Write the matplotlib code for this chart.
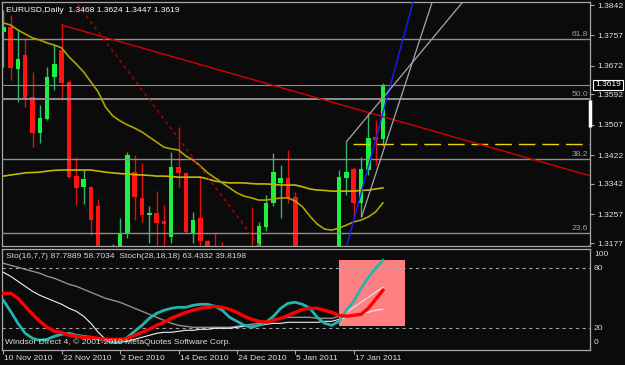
import matplotlib
matplotlib.use("Agg")
import matplotlib.pyplot as plt
import matplotlib.transforms as mtransforms
from matplotlib.patches import Rectangle
import numpy as np

plt.rcParams['font.family'] = ['Liberation Sans', 'DejaVu Sans']

# EURUSD daily bars, 10 Nov 2010 .. 21 Jan 2011 (bar index 0..52)
opens = [1.3767, 1.3781, 1.3663, 1.3702, 1.3585, 1.3484, 1.3524, 1.3641, 1.3716, 1.3627,
         1.3364, 1.3334, 1.3334, 1.3280, 1.3080, 1.2990, 1.3120, 1.3205, 1.3375, 1.3303,
         1.3255, 1.3261, 1.3239, 1.3194, 1.3389, 1.3373, 1.3205, 1.3247, 1.3183, 1.3160,
         1.3140, 1.3120, 1.3130, 1.3140, 1.3160, 1.3090, 1.3222, 1.3289, 1.3345, 1.3359,
         1.3306, 1.3140, 1.3000, 1.2900, 1.2950, 1.2990, 1.3110, 1.3359, 1.3384, 1.3289,
         1.3381, 1.3473, 1.3468]
highs = [1.3828, 1.3814, 1.3775, 1.3750, 1.3655, 1.3563, 1.3669, 1.3730, 1.3789, 1.3632,
         1.3417, 1.3381, 1.3336, 1.3300, 1.3140, 1.3174, 1.3247, 1.3431, 1.3423, 1.3401,
         1.3280, 1.3322, 1.3283, 1.3431, 1.3501, 1.3375, 1.3264, 1.3361, 1.3185, 1.3205,
         1.3180, 1.3150, 1.3160, 1.3165, 1.3278, 1.3236, 1.3311, 1.3429, 1.3395, 1.3437,
         1.3320, 1.3160, 1.3020, 1.2970, 1.3020, 1.3130, 1.3381, 1.3459, 1.3390, 1.3417,
         1.3540, 1.3521, 1.3624]
lows = [1.3669, 1.3632, 1.3571, 1.3557, 1.3445, 1.3456, 1.3521, 1.3605, 1.3577, 1.3359,
        1.3283, 1.3286, 1.3199, 1.3060, 1.2970, 1.2980, 1.3100, 1.3191, 1.3241, 1.3236,
        1.3177, 1.3165, 1.3160, 1.3177, 1.3334, 1.3205, 1.3177, 1.3160, 1.3130, 1.3110,
        1.3100, 1.3080, 1.3100, 1.3090, 1.3060, 1.3070, 1.3211, 1.3280, 1.3247, 1.3289,
        1.3120, 1.2990, 1.2870, 1.2860, 1.2910, 1.2970, 1.3100, 1.3311, 1.3250, 1.3250,
        1.3367, 1.3395, 1.3447]
closes = [1.3781, 1.3666, 1.3691, 1.3582, 1.3484, 1.3526, 1.3641, 1.3677, 1.3624, 1.3361,
          1.3331, 1.3356, 1.3241, 1.3080, 1.2990, 1.3120, 1.3205, 1.3423, 1.3306, 1.3255,
          1.3261, 1.3233, 1.3230, 1.3389, 1.3373, 1.3208, 1.3241, 1.3183, 1.3170, 1.3140,
          1.3120, 1.3130, 1.3140, 1.3110, 1.3090, 1.3225, 1.3289, 1.3375, 1.3359, 1.3303,
          1.3140, 1.3000, 1.2900, 1.2950, 1.2990, 1.3110, 1.3361, 1.3375, 1.3289, 1.3384,
          1.3470, 1.3465, 1.3619]

ma_fast = [1.3792, 1.3786, 1.3772, 1.3761, 1.3750, 1.3744, 1.3736, 1.3730, 1.3722, 1.3697,
           1.3677, 1.3655, 1.3627, 1.3599, 1.3557, 1.3532, 1.3518, 1.3507, 1.3498, 1.3487,
           1.3473, 1.3459, 1.3445, 1.3440, 1.3437, 1.3420, 1.3409, 1.3392, 1.3373, 1.3359,
           1.3345, 1.3331, 1.3317, 1.3308, 1.3303, 1.3297, 1.3297, 1.3300, 1.3303, 1.3303,
           1.3294, 1.3278, 1.3252, 1.3230, 1.3216, 1.3213, 1.3219, 1.3227, 1.3236, 1.3241,
           1.3250, 1.3264, 1.3289]
ma_slow = [1.3364, 1.3367, 1.3370, 1.3373, 1.3374, 1.3375, 1.3378, 1.3380, 1.3381, 1.3381,
           1.3381, 1.3381, 1.3381, 1.3378, 1.3375, 1.3373, 1.3371, 1.3370, 1.3368, 1.3367,
           1.3366, 1.3364, 1.3364, 1.3363, 1.3361, 1.3361, 1.3361, 1.3361, 1.3356, 1.3350,
           1.3347, 1.3345, 1.3345, 1.3345, 1.3343, 1.3342, 1.3342, 1.3341, 1.3339, 1.3339,
           1.3339, 1.3334, 1.3328, 1.3325, 1.3324, 1.3322, 1.3322, 1.3322, 1.3322, 1.3324,
           1.3325, 1.3328, 1.3331]

sto_main = [48, 37, 25, 15, 10, 8, 9, 12, 14, 15, 13, 12, 11, 9, 8, 6, 6, 11, 17, 23,
            30, 35, 38, 40, 41, 41, 43, 44, 44, 42, 38, 31, 27, 23, 21, 23, 26, 32, 40, 45,
            46, 44, 40, 31, 25, 23, 27, 38, 47, 60, 71, 80, 88]
sto_signal = [55, 55, 50, 42, 34, 27, 21, 17, 16, 13, 12, 11, 11, 10, 9, 9, 9, 10, 13, 16,
              19, 23, 26, 30, 33, 36, 38, 40, 41, 42, 41, 39, 36, 32, 29, 27, 26, 28, 30, 33,
              36, 39, 40, 40, 38, 36, 33, 32, 33, 34, 40, 49, 58]
stoch_main = [85, 83, 81, 79, 77, 75, 72, 70, 67, 64, 62, 59, 56, 53, 50, 48, 46, 43, 40, 37,
              34, 31, 28, 25, 23, 22, 21, 21, 21, 21, 21, 21, 22, 23, 24, 25, 27, 29, 30, 31,
              31, 31, 31, 30, 30, 30, 32, 36, 41, 46, 51, 56, 61]
stoch_signal = [76, 72, 67, 62, 57, 53, 50, 47, 44, 40, 37, 32, 25, 16, 9, 6, 6, 7, 9, 11,
                13, 15, 16, 16, 17, 18, 18, 19, 19, 20, 20, 20, 21, 22, 22, 23, 24, 25, 25, 26,
                26, 26, 26, 26, 27, 27, 29, 31, 33, 35, 36, 38, 39]

date_bars = [0, 8, 16, 24, 32, 40, 48]
date_labels = ['10 Nov 2010', '22 Nov 2010', '2 Dec 2010', '14 Dec 2010',
               '24 Dec 2010', '5 Jan 2011', '17 Jan 2011']
price_ticks = [1.3842, 1.3757, 1.3672, 1.3592, 1.3507, 1.3422, 1.3342, 1.3257, 1.3177]
fib_levels = [1.3747, 1.3579, 1.3412, 1.3205]
fib_names = ['61.8', '50.0', '38.2', '23.6']
hline_price = 1.3454
hline_start = 47.9

# trendlines as (bar, price) anchor pairs
red_trend = [(8, 1.3786), (52, 1.3530)]
red_dotted = [(12.5, 1.3781), (34.5, 1.3185)]
blue_trend = [(47.0, 1.3166), (56.1, 1.3848)]
gray_upper = [(47.0, 1.3460), (62.8, 1.3847)]
gray_lower = [(49.1, 1.3251), (58.7, 1.3847)]
stoch_box = (46, 55, 22, 88)

BG = '#0b0b0b'
W, H = 625.0, 365.0
XMIN, XMAX = -0.18, 80.37


def px_box(x0, y0, x1, y1):
    return [x0 / W, 1 - y1 / H, (x1 - x0) / W, (y1 - y0) / H]


def through(p0, p1, x_from, x_to):
    (xa, ya), (xb, yb) = p0, p1
    k = (yb - ya) / (xb - xa)
    return [x_from, x_to], [ya + k * (x_from - xa), ya + k * (x_to - xa)]


fig = plt.figure(figsize=(6.25, 3.65), dpi=100, facecolor=BG)
ax = fig.add_axes(px_box(2, 2, 590, 246), facecolor=BG)
ax2 = fig.add_axes(px_box(2, 248.5, 590, 349.5), facecolor=BG)

for a in (ax, ax2):
    a.set_xlim(XMIN, XMAX)
    for s in a.spines.values():
        s.set_color('#a8a8a8')
        s.set_linewidth(0.9)

ax.set_ylim(1.31687, 1.38504)
ax2.set_ylim(-1.2, 99.8)

# candles
idx = np.arange(len(opens))
o, h, l, c = map(np.array, (opens, highs, lows, closes))
up = c >= o
ax.vlines(idx[up], l[up], h[up], color='#2fb56c', lw=1, zorder=2)
ax.vlines(idx[~up], l[~up], h[~up], color='#e01010', lw=1, zorder=2)
ax.bar(idx[up], (c - o)[up], bottom=o[up], width=0.62, color='#1cf040', lw=0, zorder=3)
ax.bar(idx[~up], (o - c)[~up], bottom=c[~up], width=0.62, color='#ff1414', lw=0, zorder=3)

# fibo levels and bid line
for lvl, name in zip(fib_levels, fib_names):
    ax.axhline(lvl, color='#8e8e8e', lw=1.4 if name == '50.0' else 1.0, zorder=4)
    ax.annotate(name, xy=(0.9966, lvl),
                xycoords=mtransforms.blended_transform_factory(ax.transAxes, ax.transData),
                xytext=(0, 3.4), textcoords='offset points', ha='right', va='center',
                color='#a0a0a0', fontsize=6.1, zorder=6)
ax.axhline(closes[-1], color='#8e8e8e', lw=0.8, zorder=4)

# moving averages
ax.plot(idx, ma_slow, color='#c4b800', lw=1.2, zorder=5)
ax.plot(idx, ma_fast, color='#b0a400', lw=1.2, zorder=5)

ax.hlines(hline_price, hline_start, XMAX, colors='#e8d800', lw=1,
          linestyles=(0, (12, 5)), zorder=5)

# trendlines
xs, ys = through(*red_trend, red_trend[0][0], XMAX)
ax.plot(xs, ys, color='#d40000', lw=1, zorder=5)
xs, ys = through(*red_dotted, XMIN, XMAX)
ax.plot(xs, ys, color='#b00000', lw=1, ls=(0, (2.5, 2.5)), zorder=5)
xs, ys = through(*blue_trend, XMIN, XMAX)
ax.plot(xs, ys, color='#1c1cff', lw=1, zorder=5)
for tl in (gray_upper, gray_lower):
    xs, ys = through(*tl, tl[0][0], XMAX)
    ax.plot(xs, ys, color='#a8a8a8', lw=0.9, zorder=5)

# right price scale
ax.yaxis.tick_right()
ax.set_yticks(price_ticks)
ax.set_yticklabels(['%.4f' % p for p in price_ticks])
ax.tick_params(axis='y', color='#a8a8a8', labelcolor='#e0e0e0', length=3,
               width=0.8, pad=2.5, labelsize=6.1)
ax.set_xticks([])
ax.text(1.0088, closes[-1], '%.4f' % closes[-1],
        transform=mtransforms.blended_transform_factory(ax.transAxes, ax.transData),
        ha='left', va='center', color='white', fontsize=6.1, zorder=7,
        bbox=dict(boxstyle='square,pad=0.2', fc='black', ec='white', lw=0.8))
ax.plot([XMAX, XMAX], [1.3577, 1.3501], color='white', lw=2.5, clip_on=False,
        solid_capstyle='butt', zorder=7)

# stochastic panel
x0, x1, v0, v1 = stoch_box
ax2.add_patch(Rectangle((x0, v0), x1 - x0, v1 - v0, fc='#ff8080', ec='none', zorder=1))
for lev in (80, 20):
    ax2.axhline(lev, color='#a0a0a0', lw=0.8, ls=(0, (3, 3)), zorder=2)
ax2.plot(idx, stoch_main, color='#909090', lw=1, zorder=3)
ax2.plot(idx[46:], stoch_main[46:], color='#ffd4d4', lw=1, zorder=3)
ax2.plot(idx, stoch_signal, color='#f2f2f2', lw=0.8, zorder=3)
ax2.plot(idx, sto_main, color='#22b5ae', lw=2, zorder=4)
ax2.plot(idx, sto_signal, color='#ff0000', lw=2.4, zorder=5)
ax2.set_yticks([])
ax2.set_xticks(date_bars)
ax2.set_xticklabels([])
ax2.tick_params(axis='x', color='#a8a8a8', length=3, width=0.8)
xfm = mtransforms.blended_transform_factory(ax2.transData, ax2.transAxes)
for b, lbl in zip(date_bars, date_labels):
    ax2.text(b + 0.15, -0.085, lbl, transform=xfm, ha='left', va='center',
             color='#e0e0e0', fontsize=6.1, clip_on=False)

# texts
fig.text(6 / W, 1 - 10 / H,
         'EURUSD,Daily  %.4f %.4f %.4f %.4f' % (opens[-1], highs[-1], lows[-1], closes[-1]),
         color='white', fontsize=6.1, va='center')
fig.text(6 / W, 1 - 257 / H,
         'Sto(16,7,7) 87.7889 58.7034  Stoch(28,18,18) 63.4332 39.8198',
         color='#d8d8d8', fontsize=6.1, va='center')
fig.text(5 / W, 1 - 342 / H, 'Windsor Direct 4, \u00a9 2001-2010 MetaQuotes Software Corp.',
         color='#e0e0e0', fontsize=6.1, va='center')
for lbl, ypx in (('100', 254), ('80', 268), ('20', 328), ('0', 343)):
    fig.text(594 / W, 1 - ypx / H, lbl, color='#d8d8d8', fontsize=6.1, va='center')

fig.savefig('out.png', dpi=100, facecolor=BG)
